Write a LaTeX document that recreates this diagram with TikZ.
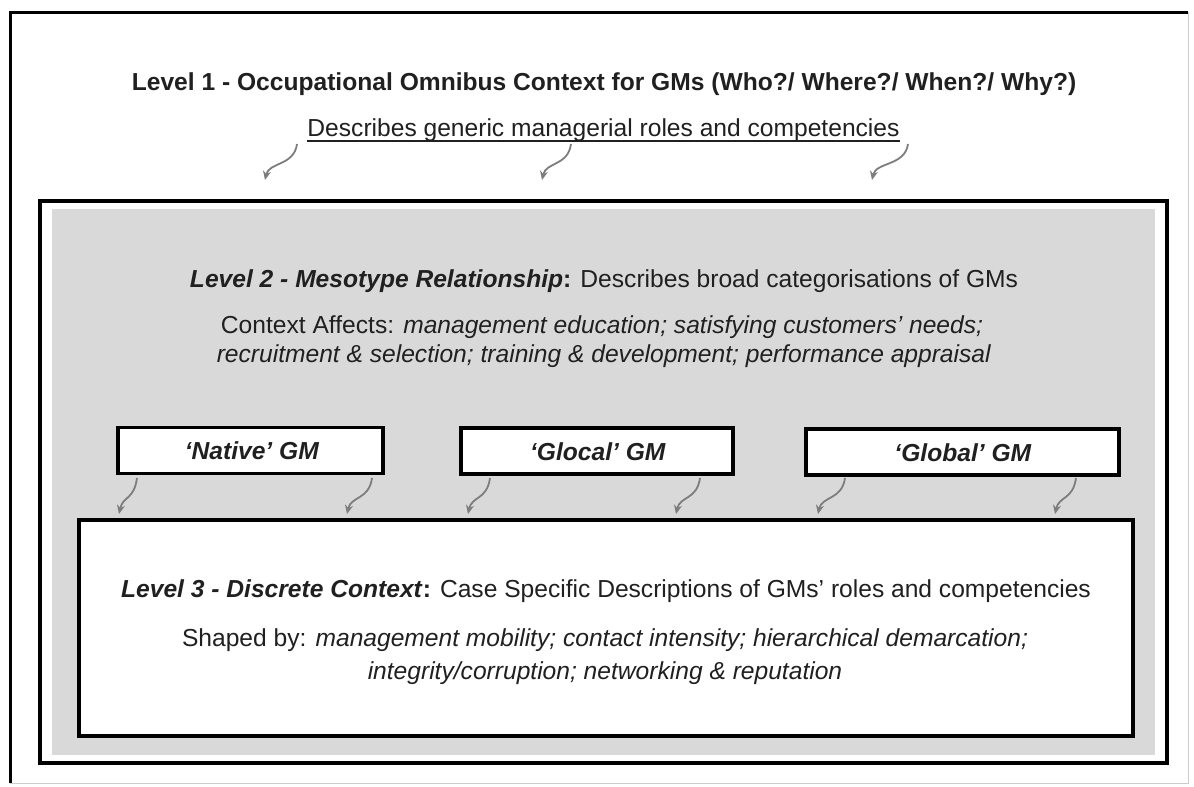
\documentclass[tikz,border=0pt]{standalone}
\usepackage{fontspec}
\setmainfont{Liberation Sans}
\usetikzlibrary{arrows.meta,calc}
\definecolor{panelgray}{RGB}{217,217,217}
\definecolor{arrowgray}{RGB}{125,125,125}
\definecolor{txt}{RGB}{32,32,32}
\tikzset{
  boxframe/.style={draw=black, line width=3.5pt, fill=white, inner sep=0pt},
  gmbox/.style={draw=black, line width=3.5pt, fill=white, inner sep=0pt, minimum height=46pt},
  lbl/.style={text=txt, font=\fontsize{24.6}{29}\selectfont, inner sep=0pt, anchor=center},
  curl/.style={draw=arrowgray, line width=1.8pt, -{Stealth[length=9pt,width=8pt]}},
}
\begin{document}
\begin{tikzpicture}[x=1pt,y=-1pt]
\useasboundingbox (0,0) rectangle (1194,787);
% outer frame
\draw[draw=black!20, line width=1pt] (10,12) rectangle (1188,783);
\draw[line width=3pt] (10,783) -- (10,12) -- (1188,12);
% level 2 frame
\node (l2frame) [boxframe, line width=4pt, minimum width=1127pt, minimum height=562pt] at (603.5,482) {};
\fill[panelgray] (52,209) rectangle (1155,755);
% level 3 box
\node (l3box) [boxframe, minimum width=1054pt, minimum height=216pt] at (606,628) {};
% GM boxes
\node (native) [gmbox, minimum width=265pt] at (250.5,450.5) {};
\node (glocal) [gmbox, minimum width=272pt] at (597,451) {};
\node (global) [gmbox, minimum width=313pt] at (962.5,452) {};
\node (nativel) [lbl] at (252,451) {\textbf{\textit{‘Native’ GM}}};
\node (glocall) [lbl] at (598,452) {\textbf{\textit{‘Glocal’ GM}}};
\node (globall) [lbl] at (963,453) {\textbf{\textit{‘Global’ GM}}};
% level 1 text
\node (l1) [lbl] at (604,84) {\textbf{Level 1 - Occupational Omnibus Context for GMs (Who?/ Where?/ When?/ Why?)}};
\node (l1sub) [lbl] at (603.5,130) {Describes generic managerial roles and competencies};
\draw[txt, line width=2pt] ($(l1sub.base west)+(0,5)$) -- ($(l1sub.base east)+(0,5)$);
% level 2 text
\node (l2) [lbl] at (604,281) {\textbf{\textit{Level 2 - Mesotype Relationship}:} Describes broad categorisations of GMs};
\node (l2a) [lbl] at (602,327) {Context Affects: \textit{management education; satisfying customers’ needs;}};
\node (l2b) [lbl] at (604,356) {\textit{recruitment \& selection; training \& development; performance appraisal}};
% level 3 text
\node (l3) [lbl] at (606,591) {\textbf{\textit{Level 3 - Discrete Context}:} Case Specific Descriptions of GMs’ roles and competencies};
\node (l3a) [lbl] at (605,640) {Shaped by: \textit{management mobility; contact intensity; hierarchical demarcation;}};
\node (l3b) [lbl] at (605,673) {\textit{integrity/corruption; networking \& reputation}};
% arrow start / end coordinates
\coordinate (s1) at (297,144); \coordinate (e1) at (265,180);
\coordinate (s2) at (571,144); \coordinate (e2) at (542,180);
\coordinate (s3) at (908,144); \coordinate (e3) at (872,180);
\coordinate (n1) at (137,478); \coordinate (f1) at (119,514);
\coordinate (n2) at (372,478); \coordinate (f2) at (347,514);
\coordinate (n3) at (490,478); \coordinate (f3) at (468,514);
\coordinate (n4) at (700,478); \coordinate (f4) at (676,514);
\coordinate (n5) at (845,478); \coordinate (f5) at (818,514);
\coordinate (n6) at (1076,478); \coordinate (f6) at (1055,514);
\foreach \a/\b in {s1/e1,s2/e2,s3/e3,n1/f1,n2/f2,n3/f3,n4/f4,n5/f5,n6/f6}{
  \draw[curl] (\a) .. controls ($(\a)+(-3,22)$) and ($(\b)+(4,-18)$) .. (\b);
}
\end{tikzpicture}
\end{document}
